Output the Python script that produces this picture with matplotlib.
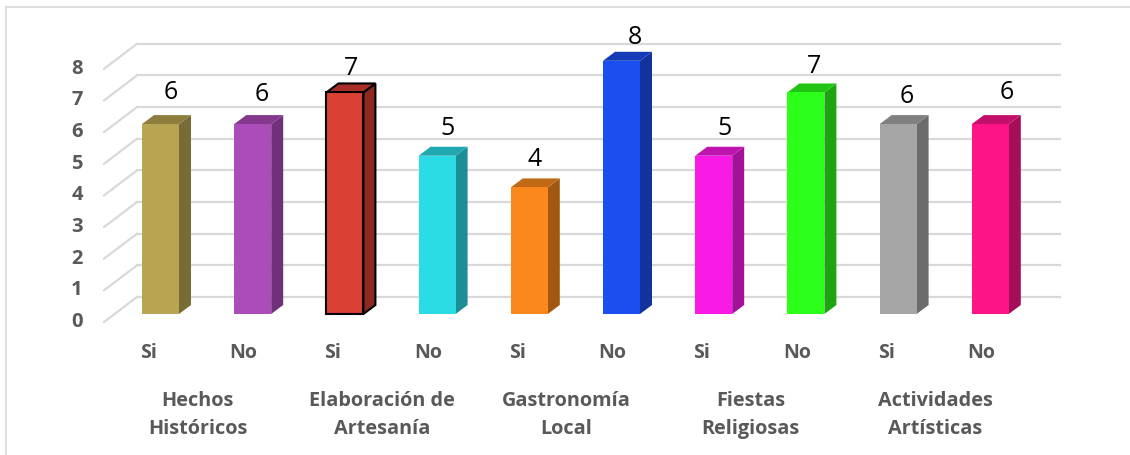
import matplotlib
matplotlib.use('Agg')
import matplotlib.pyplot as plt
from matplotlib.lines import Line2D

# Chart data
answers = ['Si', 'No', 'Si', 'No', 'Si', 'No', 'Si', 'No', 'Si', 'No']
values = [6, 6, 7, 5, 4, 8, 5, 7, 6, 6]
groups = ['Hechos\nHistóricos', 'Elaboración de\nArtesanía', 'Gastronomía\nLocal',
          'Fiestas\nReligiosas', 'Actividades\nArtísticas']
y_ticks = [0, 1, 2, 3, 4, 5, 6, 7, 8]

front_colors = ['#B8A551', '#AB4DB9', '#DB4035', '#2BDCE6', '#FB881C',
                '#1B4EF0', '#FA1AE6', '#2BFF1A', '#A6A6A6', '#FF1487']
side_colors = ['#786B35', '#6F3279', '#8E2820', '#1C8F96', '#A35812',
               '#12339C', '#A3119A', '#1CA511', '#6C6C6C', '#A50D58']
top_colors = ['#8D7E3E', '#84398F', '#A82E27', '#20A8B0', '#C06A15',
              '#153CB8', '#BF14B0', '#21C414', '#808080', '#C30F69']

# Small nudges of the value labels, in pixels, as they sit in the picture
label_dx = [10, 9, 6, 10, 5, 13, 11, 8, 9, 16]
label_dy = [24, 22, 16, 19, 20, 15, 19, 18, 20, 24]

W, H = 1130, 456
PX_X = 92.2
PX_Y = 31.65
X0 = 160.5
Y0 = 315

plt.rcParams['font.family'] = ['Open Sans', 'DejaVu Sans']

fig = plt.figure(figsize=(W / 100, H / 100), dpi=100)

# Axes go from the front left of the floor to the end of the back wall
left, right, bottom, top = 104, 1060, 323, 45
ax = fig.add_axes([left / W, 1 - bottom / H, (right - left) / W, (bottom - top) / H])
ax.set_xlim((left - X0) / PX_X, (right - X0) / PX_X)
ax.set_ylim((Y0 - bottom) / PX_Y, (Y0 - top) / PX_Y)
ax.axis('off')

# Depth of the bars and of the back wall, in data units
bar_dx, bar_dy = 12 / PX_X, 9 / PX_Y
wall_dx, wall_dy = 33 / PX_X, 25 / PX_Y
wall_x0 = (left - X0) / PX_X
floor_off = (Y0 - bottom) / PX_Y
half = 18.5 / PX_X

for v in y_ticks:
    y = v + floor_off
    ax.plot([wall_x0, wall_x0 + wall_dx], [y, y + wall_dy], color='#D9D9D9', lw=1.6, clip_on=False, zorder=1)
    ax.plot([wall_x0 + wall_dx, (right - X0) / PX_X], [y + wall_dy, y + wall_dy],
            color='#D9D9D9', lw=1.6, clip_on=False, zorder=1)
    ax.annotate(str(v), (wall_x0, v), xytext=(-27, -7), textcoords='offset pixels', ha='center', va='center',
                fontsize=14.5, fontweight='bold', color='#595959', annotation_clip=False)

for i, v in enumerate(values):
    outlined = i == 2
    edge = 'black' if outlined else 'none'
    lw = 1.5 if outlined else 0
    ax.fill([i + half, i + half + bar_dx, i + half + bar_dx, i + half],
            [0, bar_dy, v + bar_dy, v], color=side_colors[i], ec=edge, lw=lw, zorder=3, clip_on=False)
    ax.fill([i - half, i - half + bar_dx, i + half + bar_dx, i + half],
            [v, v + bar_dy, v + bar_dy, v], color=top_colors[i], ec=edge, lw=lw, zorder=3, clip_on=False)
    ax.bar(i, v, width=2 * half, color=front_colors[i], edgecolor=edge, linewidth=lw, zorder=4, clip_on=False)
    ax.annotate(str(v), (i, v), xytext=(label_dx[i], label_dy[i] + 9), textcoords='offset pixels',
                ha='center', va='center', fontsize=18, color='black', zorder=5, annotation_clip=False)
    # the No labels sit a little further right under their bars
    ax.annotate(answers[i], (i, 0), xytext=(-12 if i % 2 == 0 else -9, -38), textcoords='offset pixels',
                ha='center', va='center', fontsize=14, fontweight='bold', color='#595959', annotation_clip=False)

for g, name in enumerate(groups):
    ax.annotate(name, (2 * g + 0.5, 0), xytext=(-9, -100), textcoords='offset pixels', ha='center', va='center',
                fontsize=14.3, fontweight='bold', color='#595959', linespacing=1.5, annotation_clip=False)

# Chart frame, only the top and left edges show
fig.add_artist(Line2D([6 / W, 6 / W], [0, 1 - 7.5 / H], color='#D9D9D9', lw=1.2))
fig.add_artist(Line2D([6 / W, 1], [1 - 7.5 / H, 1 - 7.5 / H], color='#D9D9D9', lw=1.2))

fig.savefig('out.png', dpi=100)
